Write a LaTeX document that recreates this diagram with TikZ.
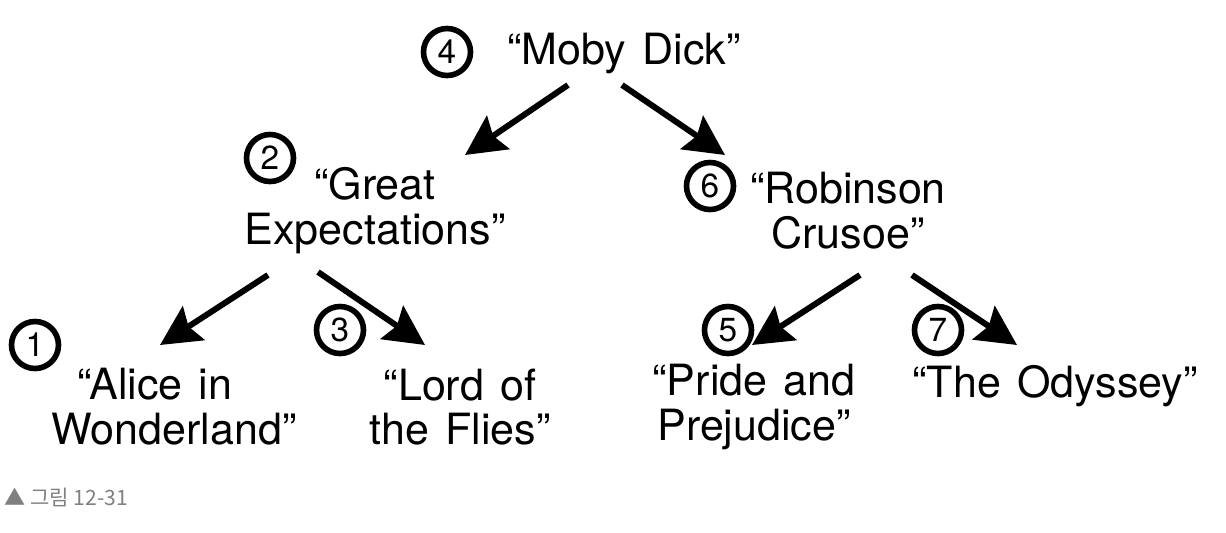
\documentclass[tikz,border=0pt]{standalone}
\usepackage{fontspec}
\setmainfont[WordSpace=1.35]{TeX Gyre Heros}
\newfontfamily\krfont{Noto Sans CJK KR}
\usetikzlibrary{arrows.meta}
\definecolor{captiongray}{HTML}{808080}
\tikzstyle{book edge} = [draw,line width=3.4pt,-{Stealth[length=0.8cm,width=0.8cm,inset=0.12cm]}]

\begin{document}
\begin{tikzpicture}
[x=0.02cm,y=-0.02cm, %
book/.style={align=center,inner sep=0pt,font=\fontsize{24.5}{25.5}\selectfont}, %
order/.style={shape=circle,draw,line width=3.2pt,minimum size=0.94cm,inner sep=0pt,font=\fontsize{19}{19}\selectfont}]
\useasboundingbox (0,0) rectangle (1226,532);

%% books
\foreach \nodename/\x/\y/\title in {
moby/624/53/{``Moby Dick''}, great/375/211/{``Great\\Expectations''},
robinson/848/211/{``Robinson\\Crusoe''}, alice/174/407/{``Alice in\hspace*{22pt}\\Wonderland''},
lord/460/407/{``Lord of\\the Flies''}, pride/754/407/{``Pride and\\Prejudice''},
odyssey/1055/386/{``The Odyssey''}}
{
\node (\nodename) at (\x,\y) [book] {\title};
}

%% visiting order
\foreach \nodename/\x/\y/\num in {
c4/447/52/4, c2/270/158/2, c6/710/186/6, c1/35/345/1, c3/340/330/3, c5/728/330/5, c7/938/330/7}
{
\node (\nodename) at (\x,\y) [order] {\num};
}

%% edges
\path
\foreach \startnode/\sx/\sy/\endnode/\ex/\ey in {
moby/-56/32/great/90/-56, moby/-2/32/robinson/-123/-56,
great/-107/64/alice/-14/-62, great/-57/61/lord/-35/-62,
robinson/12/64/pride/-2/-62, robinson/64/64/odyssey/-38/-41}
{
([shift={(\sx,\sy)}]\startnode.center) edge[book edge] ([shift={(\ex,\ey)}]\endnode.center)
};

\node (caption) [anchor=west,text=captiongray,inner sep=0pt] at (4,497) {\krfont\fontsize{12}{12}\selectfont ▲ 그림 12-31};

\end{tikzpicture}
\end{document}
